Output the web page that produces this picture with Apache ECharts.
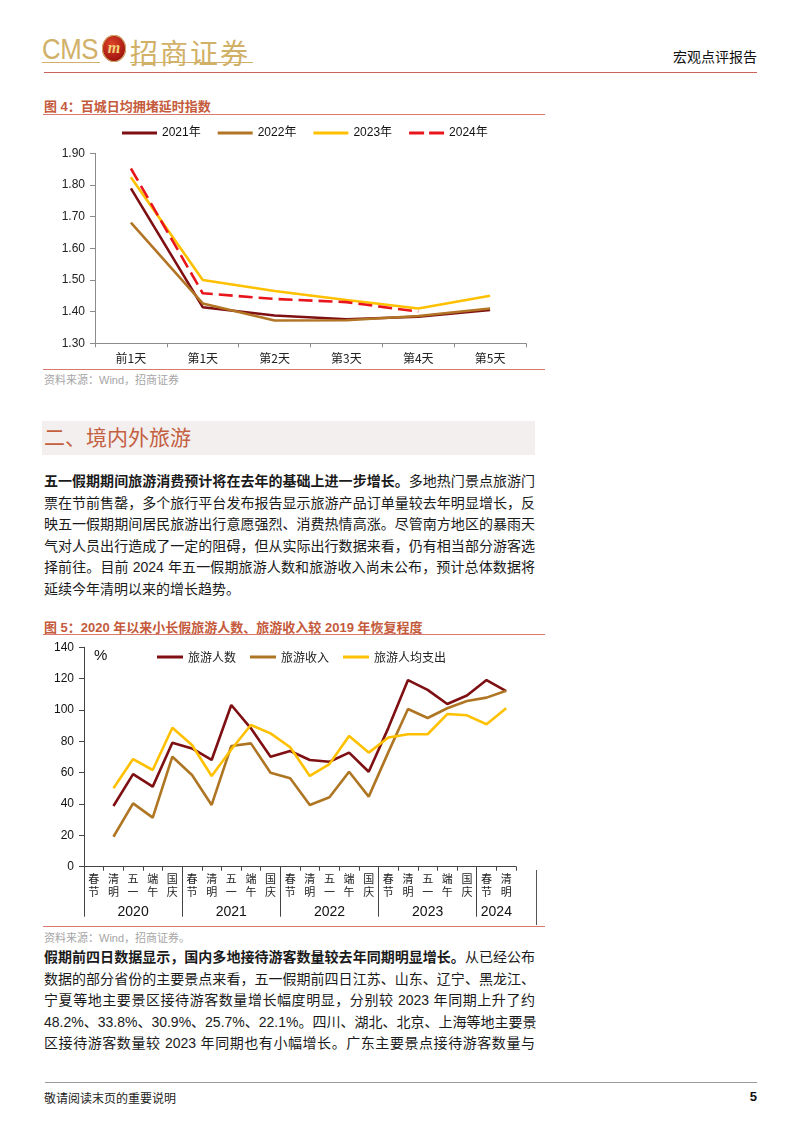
<!DOCTYPE html>
<html><head><meta charset="utf-8">
<script src="https://cdn.jsdelivr.net/npm/echarts/dist/echarts.min.js"></script>
<style>
html,body{margin:0;padding:0;background:#fff;}
#page{position:relative;width:802px;height:1133px;overflow:hidden;font-family:"Liberation Sans","Noto Sans CJK SC",sans-serif;color:#1a1a1a;}
.abs{position:absolute;}
.cap{position:absolute;left:44px;font-size:13px;font-weight:bold;color:#C55A3C;white-space:nowrap;}
.rule{position:absolute;left:43px;width:502px;height:0;border-top:1.5px solid #D9796D;}
.src{position:absolute;left:44px;font-size:11px;color:#A6A6A6;white-space:nowrap;}
.para{position:absolute;left:44px;width:491px;font-size:14px;}
.para div{height:21.6px;line-height:21.6px;text-align:justify;text-align-last:justify;white-space:nowrap;}
.para div.last{text-align-last:left;}
</style></head>
<body><div id="page">
<!-- header -->
<div class="abs" style="left:42px;top:32px;font-size:30px;color:#D1B068;font-family:'Liberation Sans';transform:scaleX(0.86);transform-origin:left top;letter-spacing:-0.5px;">CMS</div>
<div class="abs" style="left:102px;top:35px;width:24px;height:27px;border-radius:50%;background:radial-gradient(circle at 40% 35%,#E0452A,#A0140F 70%,#6E0C08);box-shadow:0 0 0 1px #D1B068 inset;"></div>
<div class="abs" style="left:102px;top:39px;width:24px;text-align:center;font-size:16px;font-style:italic;font-weight:bold;color:#F2D27A;font-family:'Liberation Serif';">m</div>
<div class="abs" style="left:130px;top:32px;font-size:28px;color:#D1B068;letter-spacing:2px;font-family:'Noto Sans CJK SC';font-weight:400;">招商证券</div>
<div class="abs" style="left:42px;top:62px;width:58px;border-top:1.5px solid #D1B068;"></div>
<div class="abs" style="left:130px;top:62px;width:123px;border-top:1.5px solid #D1B068;"></div>
<div class="abs" style="left:640px;top:46px;width:117px;text-align:right;font-size:14px;color:#111;">宏观点评报告</div>
<div class="abs" style="left:44px;top:72px;width:713px;border-top:1px solid #C9625A;"></div>

<!-- figure 4 -->
<div class="cap" style="top:96px;">图 4：百城日均拥堵延时指数</div>
<div class="rule" style="top:114px;"></div>
<div id="c1" class="abs" style="left:40px;top:115px;width:510px;height:253px;"></div>
<div class="rule" style="top:369px;"></div>
<div class="src" style="top:371px;">资料来源：Wind，招商证券</div>

<!-- section -->
<div class="abs" style="left:42px;top:421px;width:493px;height:34px;background:#F3EFEF;"></div>
<div class="abs" style="left:44px;top:421px;height:34px;line-height:34px;font-size:21px;color:#C4603F;">二、境内外旅游</div>

<div class="para" style="top:471px;">
<div><b>五一假期期间旅游消费预计将在去年的基础上进一步增长。</b>多地热门景点旅游门</div>
<div>票在节前售罄，多个旅行平台发布报告显示旅游产品订单量较去年明显增长，反</div>
<div>映五一假期期间居民旅游出行意愿强烈、消费热情高涨。尽管南方地区的暴雨天</div>
<div>气对人员出行造成了一定的阻碍，但从实际出行数据来看，仍有相当部分游客选</div>
<div>择前往。目前 2024 年五一假期旅游人数和旅游收入尚未公布，预计总体数据将</div>
<div class="last">延续今年清明以来的增长趋势。</div>
</div>

<!-- figure 5 -->
<div class="cap" style="top:617px;">图 5：2020 年以来小长假旅游人数、旅游收入较 2019 年恢复程度</div>
<div class="rule" style="top:634px;"></div>
<div id="c2" class="abs" style="left:40px;top:636px;width:510px;height:289px;"></div>
<div class="abs" style="left:536px;top:870px;height:55px;border-left:1px solid #555;"></div>
<div class="rule" style="top:926px;"></div>
<div class="src" style="top:929px;">资料来源：Wind，招商证券。</div>

<div class="para" style="top:947px;">
<div><b>假期前四日数据显示，国内多地接待游客数量较去年同期明显增长。</b>从已经公布</div>
<div>数据的部分省份的主要景点来看，五一假期前四日江苏、山东、辽宁、黑龙江、</div>
<div>宁夏等地主要景区接待游客数量增长幅度明显，分别较 2023 年同期上升了约</div>
<div>48.2%、33.8%、30.9%、25.7%、22.1%。四川、湖北、北京、上海等地主要景</div>
<div>区接待游客数量较 2023 年同期也有小幅增长。广东主要景点接待游客数量与</div>
</div>

<!-- footer -->
<div class="abs" style="left:45px;top:1082px;width:712px;border-top:1px solid #9A9A9A;"></div>
<div class="abs" style="left:44px;top:1089px;font-size:12px;color:#222;">敬请阅读末页的重要说明</div>
<div class="abs" style="left:740px;top:1089px;width:17px;text-align:right;font-size:13px;font-weight:bold;color:#111;">5</div>
</div>

<script>
// ---------- Figure 4 data ----------
const days = ['前1天','第1天','第2天','第3天','第4天','第5天'];
const cong2021 = [1.789,1.414,1.388,1.376,1.384,1.405];
const cong2022 = [1.681,1.426,1.372,1.373,1.386,1.410];
const cong2023 = [1.824,1.500,1.465,1.437,1.410,1.450];
const cong2024 = [1.852,1.458,1.440,1.430,1.400,null];

// ---------- Figure 5 data ----------
const holidays = ['春节','清明','五一','端午','国庆','春节','清明','五一','端午','国庆','春节','清明','五一','端午','国庆','春节','清明','五一','端午','国庆','春节','清明'];
const yearGroups = ['2020','2021','2022','2023','2024'];
const groupSizes = [5,5,5,5,2];
const tourists = [null,38.7,59.1,51.1,79.1,75.5,68.1,103.2,88.3,70.2,73.8,68.1,67.0,72.8,60.6,88.6,119.1,112.8,103.8,109.2,119.1,112.0];
const revenue = [null,19.1,40.4,31.3,70.2,58.5,39.4,77.0,78.7,60.0,56.4,39.4,44.3,60.6,44.7,73.1,100.6,94.9,101.1,105.7,107.9,112.3];
const perCapita = [null,50.0,68.7,61.7,88.7,77.7,57.9,74.8,90.4,85.1,76.2,57.9,65.5,83.4,72.8,82.5,84.5,84.5,97.4,96.6,90.9,101.1];

const cjk = 'Noto Sans CJK SC';
const lat = 'Liberation Sans';
const solidIcon = 'rect';
const dashIcon = 'path://M0,0h15v3h-15z M20,0h15v3h-15z';

// ---------- chart 1 ----------
const c1 = echarts.init(document.getElementById('c1'), null, {renderer:'canvas'});
const lw = 2.6;
const col1 = ['#7E0F12','#B27425','#FFC000','#E8161C'];
const names1 = ['2021年','2022年','2023年','2024年'];
c1.setOption({
  animation:false,
  legend:{left:77, top:7, itemWidth:35, itemHeight:3, itemGap:17, symbolKeepAspect:false,
    textStyle:{fontFamily:lat+','+cjk, fontSize:12, color:'#111'},
    data:names1.map((n,i)=>({name:n, icon: i===3 ? dashIcon : solidIcon, itemStyle:{color:col1[i]}}))},
  grid:{left:55, top:38.3, width:431, height:190, containLabel:false},
  xAxis:{type:'category', data:days, boundaryGap:true,
    axisLine:{lineStyle:{color:'#8C8C8C', width:1}},
    axisTick:{show:true, length:4, lineStyle:{color:'#8C8C8C'}},
    axisLabel:{margin:9, fontSize:12, color:'#222', fontFamily:cjk}},
  yAxis:{type:'value', min:1.3, max:1.9, interval:0.1,
    splitLine:{show:false},
    axisLine:{show:true, lineStyle:{color:'#8C8C8C', width:1}},
    axisTick:{show:true, length:5, lineStyle:{color:'#8C8C8C'}},
    axisLabel:{margin:10, fontSize:12, color:'#222', fontFamily:lat, formatter:v=>v.toFixed(2)}},
  series:[
    {name:names1[0], type:'line', data:cong2021, symbol:'none', lineStyle:{color:col1[0], width:lw}, itemStyle:{color:col1[0]}},
    {name:names1[1], type:'line', data:cong2022, symbol:'none', lineStyle:{color:col1[1], width:lw}, itemStyle:{color:col1[1]}},
    {name:names1[2], type:'line', data:cong2023, symbol:'none', lineStyle:{color:col1[2], width:lw}, itemStyle:{color:col1[2]}},
    {name:names1[3], type:'line', data:cong2024, symbol:'none', lineStyle:{color:col1[3], width:lw, type:[14,6]}, itemStyle:{color:col1[3]}}
  ]
});

// ---------- chart 2 ----------
const yearAxisData = [];
const boundaries = [];
let start = 0;
const total = groupSizes.reduce((a,b)=>a+b,0);
for (let i = 0; i <= total*2; i++) yearAxisData.push('');
groupSizes.forEach((s,gi)=>{
  boundaries.push(start*2);
  yearAxisData[start*2 + s] = yearGroups[gi];
  start += s;
});
const col2 = ['#7E0F12','#AE7523','#FFC000'];
const names2 = ['旅游人数','旅游收入','旅游人均支出'];
const c2 = echarts.init(document.getElementById('c2'), null, {renderer:'canvas'});
c2.setOption({
  animation:false,
  title:{text:'%', left:49, top:7, textStyle:{fontFamily:lat, fontSize:15, fontWeight:'normal', color:'#111'}},
  legend:{left:112, top:10, itemWidth:26, itemHeight:3, itemGap:14, symbolKeepAspect:false,
    textStyle:{fontFamily:cjk, fontSize:12, color:'#222'},
    data:names2.map((n,i)=>({name:n, icon:solidIcon, itemStyle:{color:col2[i]}}))},
  grid:{left:44, top:11.3, width:432, height:219.4, containLabel:false},
  xAxis:[
    {type:'category', data:holidays.map(h=>h.split('').join('\n')), boundaryGap:true, position:'bottom',
      axisLine:{lineStyle:{color:'#444', width:1}},
      axisTick:{show:true, length:4, interval:0, lineStyle:{color:'#444'}},
      axisLabel:{interval:0, margin:6, fontSize:11, lineHeight:12.5, color:'#222', fontFamily:cjk}},
    {type:'category', data:yearAxisData, boundaryGap:false, position:'bottom',
      axisLine:{show:false},
      axisTick:{show:true, length:50, interval:(i)=>boundaries.indexOf(i)>=0, lineStyle:{color:'#444', width:1}},
      axisLabel:{interval:(i,v)=>v!=='', margin:38, fontSize:14, color:'#111', fontFamily:lat}}
  ],
  yAxis:{type:'value', min:0, max:140, interval:20,
    splitLine:{show:false},
    axisLine:{show:true, lineStyle:{color:'#444', width:1}},
    axisTick:{show:true, length:5, lineStyle:{color:'#444'}},
    axisLabel:{margin:10, fontSize:12, color:'#111', fontFamily:lat}},
  series:names2.map((n,i)=>({name:n, type:'line', data:[tourists,revenue,perCapita][i], symbol:'none',
    lineStyle:{color:col2[i], width:2.6}, itemStyle:{color:col2[i]}}))
});
</script>
</body></html>
